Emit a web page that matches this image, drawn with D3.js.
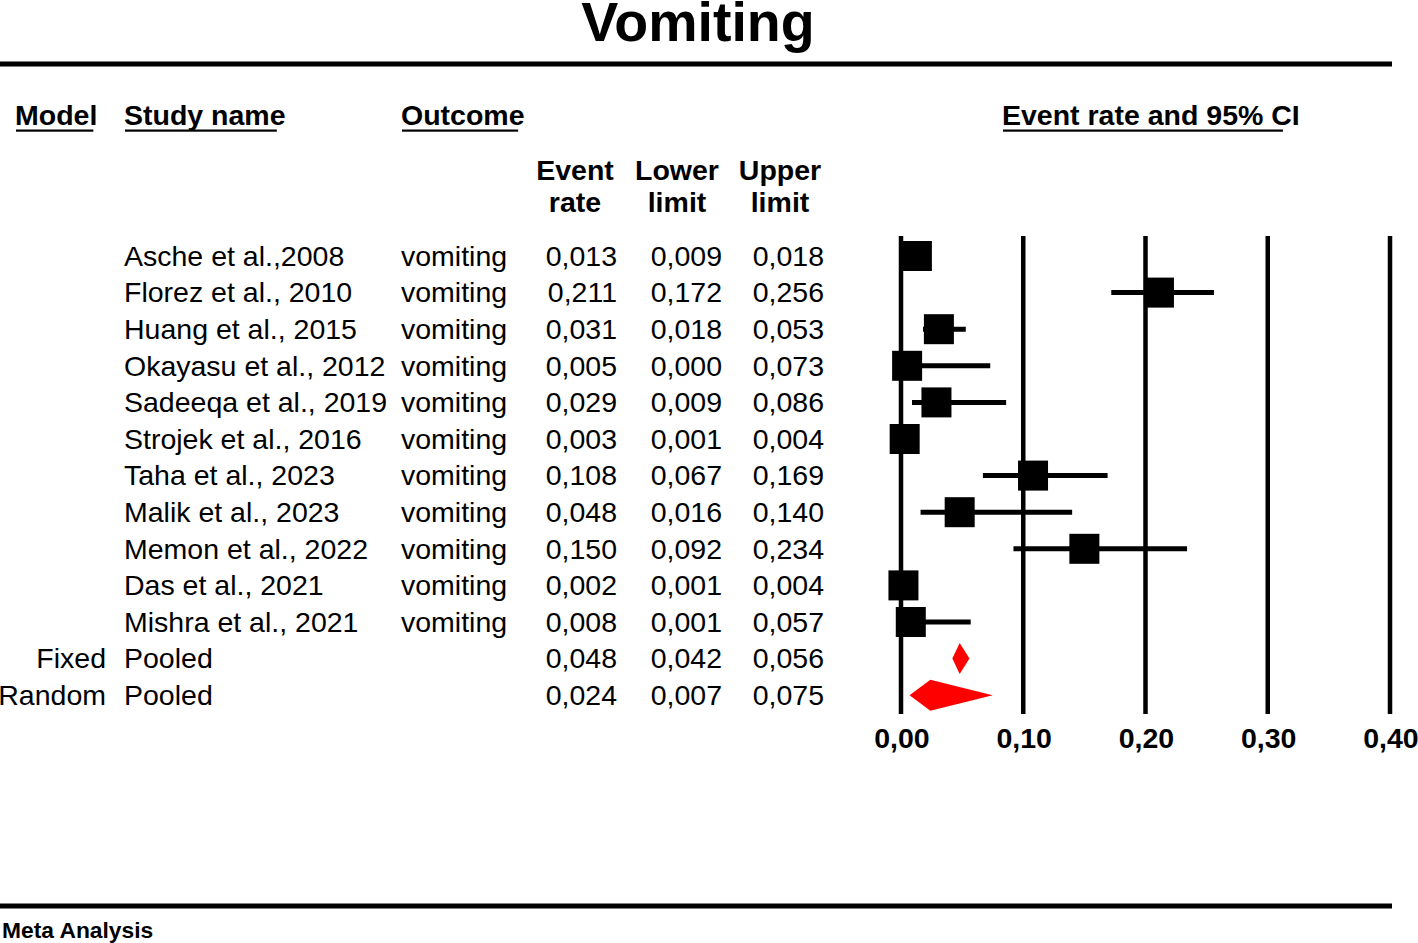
<!DOCTYPE html>
<html><head><meta charset="utf-8">
<script src="https://cdn.jsdelivr.net/npm/d3@7"></script>
<style>html,body{margin:0;padding:0;background:#fff;overflow:hidden}</style>
</head><body>
<script>
const title = "Vomiting";
const studies = ["Asche et al.,2008","Florez et al., 2010","Huang et al., 2015","Okayasu et al., 2012","Sadeeqa et al., 2019","Strojek et al., 2016","Taha et al., 2023","Malik et al., 2023","Memon et al., 2022","Das et al., 2021","Mishra et al., 2021"];
const outcome = "vomiting";
const rates = [0.013,0.211,0.031,0.005,0.029,0.003,0.108,0.048,0.150,0.002,0.008];
const lower = [0.009,0.172,0.018,0.000,0.009,0.001,0.067,0.016,0.092,0.001,0.001];
const upper = [0.018,0.256,0.053,0.073,0.086,0.004,0.169,0.140,0.234,0.004,0.057];
const pooledModels = ["Fixed","Random"];
const pooledRates = [0.048,0.024];
const pooledLower = [0.042,0.007];
const pooledUpper = [0.056,0.075];
const ticks = [0,0.1,0.2,0.3,0.4];

const W=1418,H=943;
const FONT="'Liberation Sans', Arial, Helvetica, sans-serif";
const svg=d3.select("body").append("svg").attr("width",W).attr("height",H)
  .style("font-family",FONT);

const x=d3.scaleLinear().domain([0,0.4]).range([901,1390]);
const nRows=studies.length+pooledModels.length;
const y=d3.scaleLinear().domain([0,nRows-1]).range([256,695.2]);
const fmt=v=>d3.format(".3f")(v).replace(".",",");
const fmt2=v=>d3.format(".2f")(v).replace(".",",");
const FS=28.5;

// title
svg.append("text").attr("x",698).attr("y",41).attr("text-anchor","middle")
  .attr("font-size",55.5).attr("font-weight","bold").text(title);
// rules
svg.append("rect").attr("x",0).attr("y",61.5).attr("width",1392).attr("height",5).attr("fill","#000");
svg.append("rect").attr("x",0).attr("y",903.5).attr("width",1392).attr("height",5).attr("fill","#000");
svg.append("text").attr("x",2).attr("y",938).attr("font-size",22.8).attr("font-weight","bold").text("Meta Analysis");

// headers
const headers=[{t:"Model",x:15},{t:"Study name",x:124},{t:"Outcome",x:401},{t:"Event rate and 95% CI",x:1002}];
headers.forEach(h=>{
  const t=svg.append("text").attr("x",h.x).attr("y",125).attr("font-size",FS).attr("font-weight","bold").text(h.t);
  const w=t.node().getComputedTextLength();
  svg.append("rect").attr("x",h.x+1).attr("y",129.5).attr("width",w*0.94).attr("height",2.2).attr("fill","#000");
});
const colHeads=[["Event","rate",575],["Lower","limit",677],["Upper","limit",780]];
colHeads.forEach(c=>{
  svg.append("text").attr("x",c[2]).attr("y",180).attr("text-anchor","middle").attr("font-size",FS).attr("font-weight","bold").text(c[0]);
  svg.append("text").attr("x",c[2]).attr("y",212).attr("text-anchor","middle").attr("font-size",FS).attr("font-weight","bold").text(c[1]);
});

// table rows
const rows=studies.map((s,i)=>({model:"",name:s,outcome:outcome,r:rates[i],l:lower[i],u:upper[i],pooled:false}))
  .concat(pooledModels.map((m,i)=>({model:m,name:"Pooled",outcome:"",r:pooledRates[i],l:pooledLower[i],u:pooledUpper[i],pooled:true})));
const base=9.7;
const g=svg.append("g").attr("font-size",FS);
rows.forEach((d,i)=>{
  const yy=y(i)+base;
  if(d.model) g.append("text").attr("x",106).attr("y",yy).attr("text-anchor","end").text(d.model);
  g.append("text").attr("x",124).attr("y",yy).text(d.name);
  if(d.outcome) g.append("text").attr("x",401).attr("y",yy).text(d.outcome);
  g.append("text").attr("x",617).attr("y",yy).attr("text-anchor","end").text(fmt(d.r));
  g.append("text").attr("x",722).attr("y",yy).attr("text-anchor","end").text(fmt(d.l));
  g.append("text").attr("x",824).attr("y",yy).attr("text-anchor","end").text(fmt(d.u));
});

// grid lines
svg.append("g").selectAll("line").data(ticks).join("line")
  .attr("x1",d=>x(d)).attr("x2",d=>x(d)).attr("y1",236).attr("y2",714)
  .attr("stroke","#000").attr("stroke-width",4.5);
svg.append("g").selectAll("text").data(ticks).join("text")
  .attr("x",d=>x(d)+1).attr("y",748).attr("text-anchor","middle")
  .attr("font-size",FS).attr("font-weight","bold").text(fmt2);

// study markers
const box=30;
rows.forEach((d,i)=>{
  if(d.pooled) return;
  svg.append("line").attr("x1",x(d.l)).attr("x2",x(d.u)).attr("y1",y(i)).attr("y2",y(i))
    .attr("stroke","#000").attr("stroke-width",5);
  svg.append("rect").attr("x",x(d.r)-box/2).attr("y",y(i)-box/2).attr("width",box).attr("height",box).attr("fill","#000");
});
// pooled diamonds
rows.forEach((d,i)=>{
  if(!d.pooled) return;
  const cy=y(i),h=15.5;
  svg.append("path").attr("d",`M${x(d.l)},${cy}L${x(d.r)},${cy-h}L${x(d.u)},${cy}L${x(d.r)},${cy+h}Z`).attr("fill","#ff0000");
});
</script>
</body></html>
